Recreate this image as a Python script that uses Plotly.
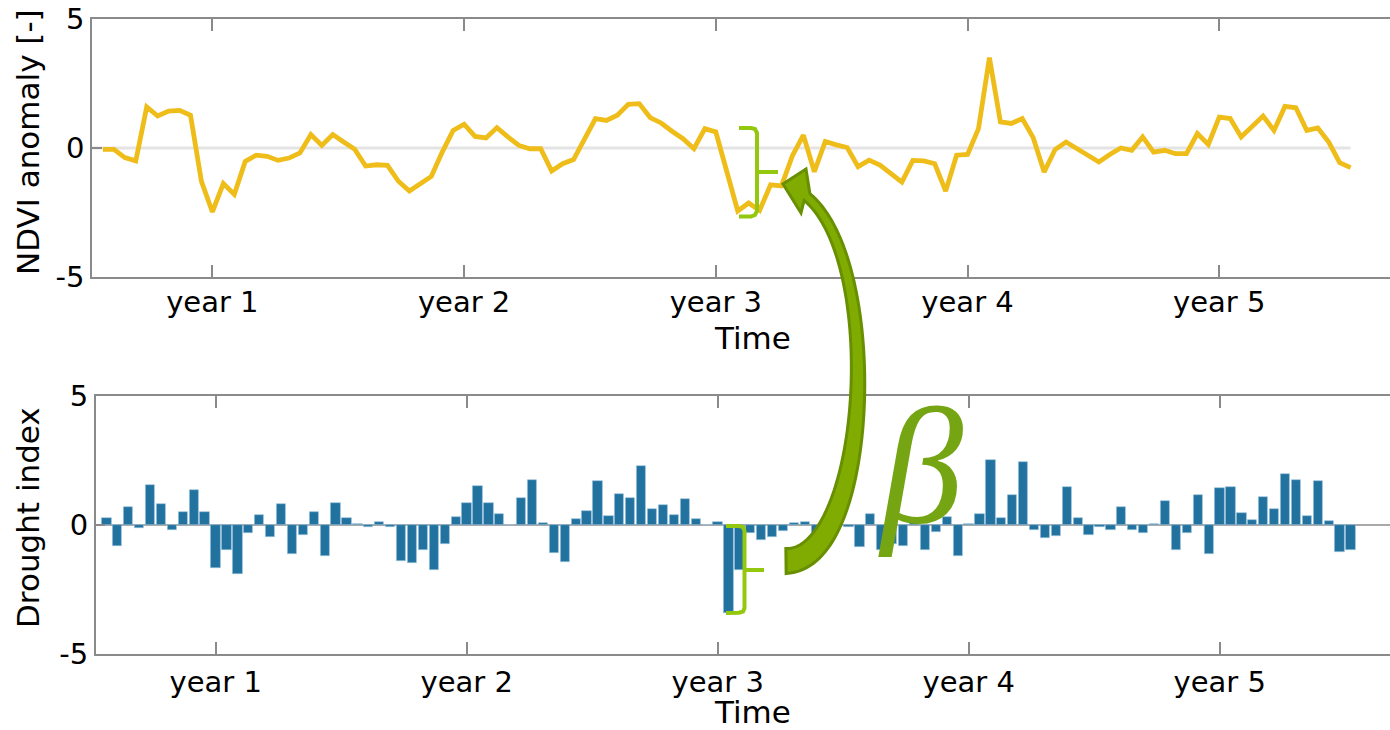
import numpy as np
import plotly.graph_objects as go

# 16-day composites, 23 per year, five years
ndvi_anomaly = [
    -0.05, -0.05, -0.37, -0.50, 1.59, 1.24, 1.43, 1.46, 1.27, -1.29,
    -2.48, -1.38, -1.80, -0.52, -0.28, -0.32, -0.48, -0.39, -0.19, 0.52,
    0.10, 0.52, 0.23, -0.05, -0.70, -0.65, -0.67, -1.29, -1.67, -1.40,
    -1.10, -0.16, 0.68, 0.92, 0.45, 0.39, 0.79, 0.43, 0.10, -0.03,
    -0.03, -0.89, -0.61, -0.45, 0.39, 1.14, 1.07, 1.27, 1.69, 1.72,
    1.18, 0.97, 0.65, 0.36, -0.03, 0.75, 0.62, -0.90, -2.44, -2.13,
    -2.42, -1.43, -1.47, -0.30, 0.50, -0.92, 0.25, 0.12, 0.02, -0.72,
    -0.47, -0.66, -0.97, -1.32, -0.48, -0.50, -0.61, -1.67, -0.28, -0.25,
    0.75, 3.50, 1.01, 0.95, 1.14, 0.40, -0.93, -0.06, 0.23, -0.03,
    -0.32, -0.54, -0.25, 0.00, -0.09, 0.43, -0.16, -0.09, -0.22, -0.22,
    0.56, 0.14, 1.20, 1.14, 0.43, 0.81, 1.24, 0.68, 1.61, 1.56,
    0.68, 0.78, 0.23, -0.57, -0.76,
]

drought_index = [
    0.28, -0.81, 0.70, -0.10, 1.55, 0.83, -0.18, 0.50, 1.36, 0.50,
    -1.67, -0.96, -1.90, -0.31, 0.39, -0.47, 0.83, -1.11, -0.40, 0.52,
    -1.19, 0.84, 0.27, 0.02, -0.08, 0.12, -0.08, -1.40, -1.47, -0.98,
    -1.76, -0.75, 0.31, 0.87, 1.51, 0.84, 0.43, 0.00, 1.05, 1.73,
    0.08, -1.09, -1.43, 0.25, 0.54, 1.71, 0.34, 1.20, 1.06, 2.29,
    0.61, 0.78, 0.37, 1.01, 0.23, 0.00, 0.13, -3.40, -1.76, -0.32,
    -0.59, -0.46, -0.24, 0.07, 0.12, -0.32, -0.71, 0.25, -0.08, -0.85,
    0.44, -0.98, -0.75, -0.83, 0.12, -0.98, -0.27, 0.31, -1.21, 0.02,
    0.44, 2.51, 0.28, 1.15, 2.44, -0.21, -0.49, -0.44, 1.49, 0.27,
    -0.40, -0.08, -0.21, 0.71, -0.21, -0.31, 0.04, 0.94, -0.96, -0.31,
    1.15, -1.14, 1.45, 1.46, 0.45, 0.18, 1.09, 0.61, 1.99, 1.76,
    0.36, 1.71, 0.14, -1.06, -0.98,
]

time_step = list(range(len(ndvi_anomaly)))
year_tick_steps = [10, 33, 56, 79, 102]
year_tick_labels = ["year 1", "year 2", "year 3", "year 4", "year 5"]
y_tick_values = [-5, 0, 5]
y_tick_labels = ["-5", "0", "5"]

W, H = 1390, 730
ML = 92
FONT = "DejaVu Sans"
AX_GRAY = "#8a8a8a"
BRACE_GREEN = "#93c80e"
ARROW_FILL = "#80ab00"
ARROW_EDGE = "#678f00"
BETA_GREEN = "#76a514"


def paper(x, y):
    """Figure pixel -> paper coordinates (plot area spans ML..W, full height)."""
    return (x - ML) / (W - ML), 1 - y / H


def path_from(points, close=False):
    parts = []
    for k, (x, y) in enumerate(points):
        px, py = paper(x, y)
        parts.append(("M" if k == 0 else "L") + f"{px:.5f},{py:.5f}")
    return " ".join(parts) + (" Z" if close else "")


fig = go.Figure()

fig.add_trace(go.Scatter(
    x=time_step, y=ndvi_anomaly, mode="lines",
    line=dict(color="#EFBD1A", width=4.8),
    xaxis="x", yaxis="y", showlegend=False, hoverinfo="skip",
))
fig.add_trace(go.Bar(
    x=time_step, y=drought_index, width=0.85,
    marker=dict(color="#21729F", line=dict(width=0.6, color="#9cc2dc")),
    xaxis="x2", yaxis="y2", showlegend=False, hoverinfo="skip",
))

x_common = dict(
    range=[-1, 117.6], tickmode="array", tickvals=year_tick_steps,
    ticktext=year_tick_labels, ticks="inside", ticklen=12, tickwidth=1.5,
    tickcolor=AX_GRAY, showline=True, linecolor=AX_GRAY, linewidth=1.5,
    mirror="ticks", showgrid=False, zeroline=False,
    tickfont=dict(family=FONT, size=29, color="#000"),
)
y_common = dict(
    range=[-5, 5], tickmode="array", tickvals=y_tick_values,
    ticktext=y_tick_labels, ticks="inside", ticklen=10, tickwidth=1.5,
    tickcolor=AX_GRAY, showline=True, linecolor=AX_GRAY, linewidth=1.5,
    showgrid=False, zeroline=False,
    tickfont=dict(family=FONT, size=29, color="#000"),
)

fig.update_layout(
    width=W, height=H,
    margin=dict(l=ML, r=0, t=0, b=0, pad=0, autoexpand=False),
    paper_bgcolor="white", plot_bgcolor="white",
    xaxis=dict(domain=[0, 1], anchor="y", ticklabelstandoff=-2, **x_common),
    yaxis=dict(domain=[1 - 277 / H, 1 - 19 / H], anchor="x", **y_common),
    xaxis2=dict(domain=[3.7 / (W - ML), 1], anchor="y2", ticklabelstandoff=1,
                **x_common),
    yaxis2=dict(domain=[1 - 654 / H, 1 - 396 / H], anchor="x2", **y_common),
    bargap=0,
)

# zero reference lines
fig.add_shape(type="line", xref="x", yref="y", x0=-1, x1=114, y0=0, y1=0,
              line=dict(color="#e4e4e4", width=3), layer="below")
fig.add_shape(type="line", xref="x2", yref="y2", x0=-1, x1=117.6, y0=0, y1=0,
              line=dict(color="#8c8c8c", width=1.5), layer="below")

# axis titles
for (cx, cy, txt, ang) in [
    (752, 338, "Time", 0), (752, 712, "Time", 0),
    (28, 142, "NDVI anomaly [-]", -90), (28, 518, "Drought index", -90),
]:
    px, py = paper(cx, cy)
    fig.add_annotation(x=px, y=py, xref="paper", yref="paper", text=txt,
                       showarrow=False, textangle=ang, xanchor="center",
                       yanchor="middle",
                       font=dict(family=FONT, size=31, color="#000"))

# braces marking the response and the drought event
top_brace = [(739, 128), (751, 128), (755, 129), (757, 133), (757, 211),
             (755, 215), (751, 216.5), (739, 216.5)]
bottom_brace = [(726, 526), (739, 526), (743, 527), (744.5, 531),
                (744.5, 608), (743, 611.5), (739, 612.7), (726, 613)]
fig.add_shape(type="path", xref="paper", yref="paper",
              path=path_from(top_brace) + " " + path_from([(757, 172), (778, 172)]),
              line=dict(color=BRACE_GREEN, width=4))
fig.add_shape(type="path", xref="paper", yref="paper",
              path=path_from(bottom_brace) + " " + path_from([(744.5, 570), (764, 570)]),
              line=dict(color=BRACE_GREEN, width=4))

# curved arrow from the drought event to the vegetation response
P0, P1, P2, P3 = map(np.array, [(786, 561), (870, 560), (885, 262), (807, 197)])
tt = np.linspace(0, 1, 80)[:, None]
curve = ((1 - tt) ** 3) * P0 + 3 * ((1 - tt) ** 2) * tt * P1 + 3 * (1 - tt) * tt ** 2 * P2 + tt ** 3 * P3
deriv = 3 * ((1 - tt) ** 2) * (P1 - P0) + 6 * (1 - tt) * tt * (P2 - P1) + 3 * tt ** 2 * (P3 - P2)
nrm = np.stack([-deriv[:, 1], deriv[:, 0]], axis=1)
nrm /= np.linalg.norm(nrm, axis=1, keepdims=True)
half_w = (9 + 16 * (1 - tt[:, 0]) ** 1.6) / 2
edge_a = curve + nrm * half_w[:, None]
edge_b = curve - nrm * half_w[:, None]
if edge_a[-1, 1] > edge_b[-1, 1]:
    edge_a, edge_b = edge_b, edge_a
head = [(806, 169), (783, 184), (801, 213)]
outline = [tuple(p) for p in edge_a] + head + [tuple(p) for p in edge_b[::-1]]
fig.add_shape(type="path", xref="paper", yref="paper",
              path=path_from(outline, close=True),
              fillcolor=ARROW_FILL, line=dict(color=ARROW_EDGE, width=3))

bx, by = paper(920, 466)
fig.add_annotation(x=bx, y=by, xref="paper", yref="paper", text="β",
                   showarrow=False, xanchor="center", yanchor="middle",
                   font=dict(family="Liberation Serif", size=165,
                             color=BETA_GREEN, style="italic"))

fig.write_html("out.html")
